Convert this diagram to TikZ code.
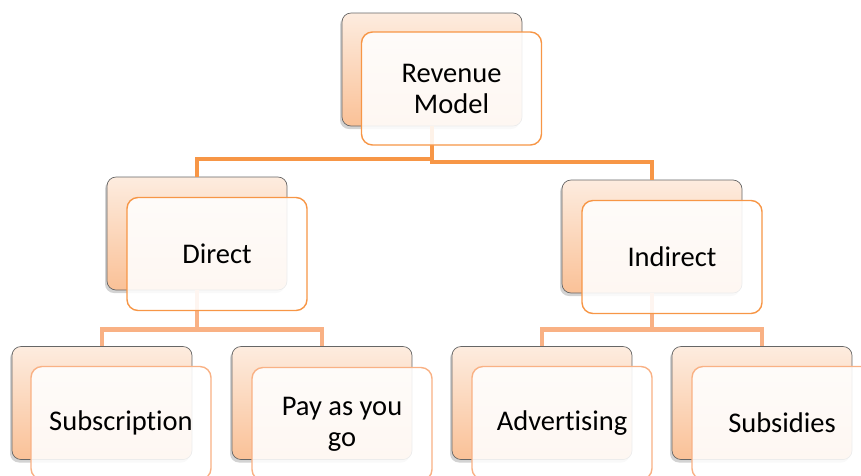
\documentclass[tikz,border=0pt]{standalone}
\usepackage{fontspec}
\setmainfont{Carlito}[Ligatures={NoCommon}]
\usepackage{tikz}
\usetikzlibrary{shadows}
\definecolor{darkorange}{HTML}{F79646}
\definecolor{lightorange}{HTML}{F9B184}
\definecolor{peachtop}{HTML}{FDECDF}
\definecolor{peachbot}{HTML}{FAC197}

\begin{document}
\begin{tikzpicture}[
  x=1pt, y=-1pt,
  back/.style={draw=gray!80!black, line width=0.7pt, rounded corners=9pt,
    minimum width=180pt, minimum height=113pt,
    top color=peachtop, bottom color=peachbot,
    drop shadow={shadow xshift=-2pt, shadow yshift=-3pt, opacity=0.35}},
  front/.style={draw=darkorange, line width=1.4pt, rounded corners=11pt,
    fill=white, fill opacity=0.88, text opacity=1,
    minimum width=180pt, minimum height=113pt, align=center,
    font=\fontsize{28.5}{31}\selectfont},
  leaf/.style={front, draw=lightorange},
  link/.style={line width=4pt, draw=darkorange},
  sublink/.style={line width=4.5pt, draw=lightorange}
]
\useasboundingbox (0,0) rectangle (861,475);
\clip (0,0) rectangle (861,475);

% back cards
\node[back] (rev-b) at (432,69.5) {};
\node[back] (dir-b) at (197,233.5) {};
\node[back] (ind-b) at (652,236.5) {};
\node[back] (sub-b) at (102,403) {};
\node[back] (pay-b) at (322,403) {};
\node[back] (adv-b) at (542,403) {};
\node[back] (sbs-b) at (762,403) {};

% connectors
\draw[link] (rev-b.south) -- ++(0,33) -| (dir-b.north);
\draw[link] (rev-b.south) -- ++(0,36) -| (ind-b.north);
\draw[sublink] (dir-b.south) -- ++(0,39) -| (sub-b.north);
\draw[sublink] (dir-b.south) -- ++(0,39) -| (pay-b.north);
\draw[sublink] (ind-b.south) -- ++(0,36) -| (adv-b.north);
\draw[sublink] (ind-b.south) -- ++(0,36) -| (sbs-b.north);

% front cards with the labels
\node[front] (rev) at (451.5,88.5) {Revenue\\Model};
\node[front] (dir) at (217,254) {Direct};
\node[front] (ind) at (672,257) {Indirect};
\node[leaf] (sub) at (121,423) {Subscription};
\node[leaf] (pay) at (342,424) {Pay as you\\go};
\node[leaf] (adv) at (562,423) {Advertising};
\node[leaf] (sbs) at (782,423) {Subsidies};
\end{tikzpicture}
\end{document}
